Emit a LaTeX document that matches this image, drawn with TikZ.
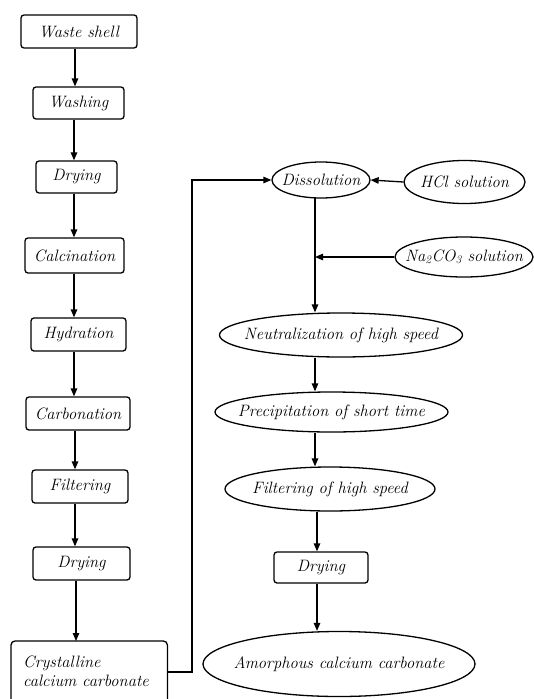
\documentclass[tikz,border=0pt]{standalone}
\usetikzlibrary{shapes.geometric,arrows.meta}
\begin{document}
\begin{tikzpicture}[x=1pt,y=-1pt,
  every node/.style={font=\fontsize{16.5}{19}\selectfont\itshape, inner sep=0pt},
  pbox/.style={draw, line width=1.3pt, rounded corners=3pt},
  pell/.style={draw, ellipse, line width=1.3pt},
  link/.style={line width=1.3pt, -{Triangle[length=8pt,width=6.5pt]}},
  plain/.style={line width=1.3pt}]
\useasboundingbox (0,0) rectangle (534,699);
% left column
\node[pbox, minimum width=116pt, minimum height=33pt] (a1) at (79,31.5) {Waste shell};
\node[pbox, minimum width=91pt, minimum height=32pt] (a2) at (78.5,103) {Washing};
\node[pbox, minimum width=81pt, minimum height=32pt] (a3) at (76.5,177) {Drying};
\node[pbox, minimum width=99pt, minimum height=35pt] (a4) at (74.5,255.5) {Calcination};
\node[pbox, minimum width=95pt, minimum height=33pt] (a5) at (78.5,334.5) {Hydration};
\node[pbox, minimum width=104pt, minimum height=33pt] (a6) at (78,413.5) {Carbonation};
\node[pbox, minimum width=96pt, minimum height=33pt] (a7) at (80,486.5) {Filtering};
\node[pbox, minimum width=97pt, minimum height=33pt] (a8) at (81.5,563.5) {Drying};
\node[minimum width=156pt, minimum height=60pt, anchor=north west] (a9) at (11,641) {};
\draw[plain, rounded corners=4pt] (a9.south west) -- (a9.north west) -- (a9.north east) -- (a9.south east);
\node[anchor=west, align=left] (a9t) at (23,671) {Crystalline\\calcium carbonate};
% fixed x for the left arrows
\coordinate (lx1) at (75,0);
\coordinate (lx2) at (74,0);
\coordinate (lx3) at (76,0);
\draw[link] (a1.south -| lx1) -- (a2.north -| lx1);
\draw[link] (a2.south -| lx2) -- (a3.north -| lx2);
\draw[link] (a3.south -| lx2) -- (a4.north -| lx2);
\draw[link] (a4.south -| lx2) -- (a5.north -| lx2);
\draw[link] (a5.south -| lx2) -- (a6.north -| lx2);
\draw[link] (a6.south -| lx1) -- (a7.north -| lx1);
\draw[link] (a7.south -| lx1) -- (a8.north -| lx1);
\draw[link] (a8.south -| lx3) -- (a9.north -| lx3);
% right column (ellipse size fixed, text as centred label)
\node[pell, minimum width=98pt, minimum height=36pt, label=center:Dissolution] (b1) at (321,180) {};
\node[pell, minimum width=121pt, minimum height=43pt, label=center:HCl solution] (h) at (464.5,182) {};
\node[pell, minimum width=138pt, minimum height=40pt, label={center:Na\textsubscript{2}CO\textsubscript{3} solution}] (n) at (464,257) {};
\node[pell, minimum width=243pt, minimum height=44pt, label={center:Neutralization of high speed}] (b2) at (341,335) {};
\node[pell, minimum width=233pt, minimum height=40pt, label={center:Precipitation of short time}] (b3) at (331.5,412) {};
\node[pell, minimum width=210pt, minimum height=44pt, label={center:Filtering of high speed}] (b4) at (330,489) {};
\node[pbox, minimum width=94pt, minimum height=31pt] (b5) at (321,567.5) {Drying};
\node[pell, minimum width=272pt, minimum height=65pt, label={center:Amorphous calcium carbonate}] (b6) at (339,664) {};
% connectors
\coordinate (j1) at (192,672);
\coordinate (j2) at (192,180);
\draw[link] (a9.east |- j1) -- (j1) -- (j2) -- (b1.west);
\draw[link] (h.west) -- (b1.east);
\coordinate (d1) at (315,197);
\coordinate (m1) at (315,257);
\coordinate (d2) at (317,0);
\draw[link] (d1) -- (b2.north -| d1);
\draw[link] (n.west) -- (m1);
\draw[link] (b2.south -| d1) -- (b3.north -| d1);
\draw[link] (b3.south -| d1) -- (b4.north -| d1);
\draw[link] (b4.south -| d2) -- (b5.north -| d2);
\draw[link] (b5.south -| d2) -- (b6.north -| d2);
\end{tikzpicture}
\end{document}
